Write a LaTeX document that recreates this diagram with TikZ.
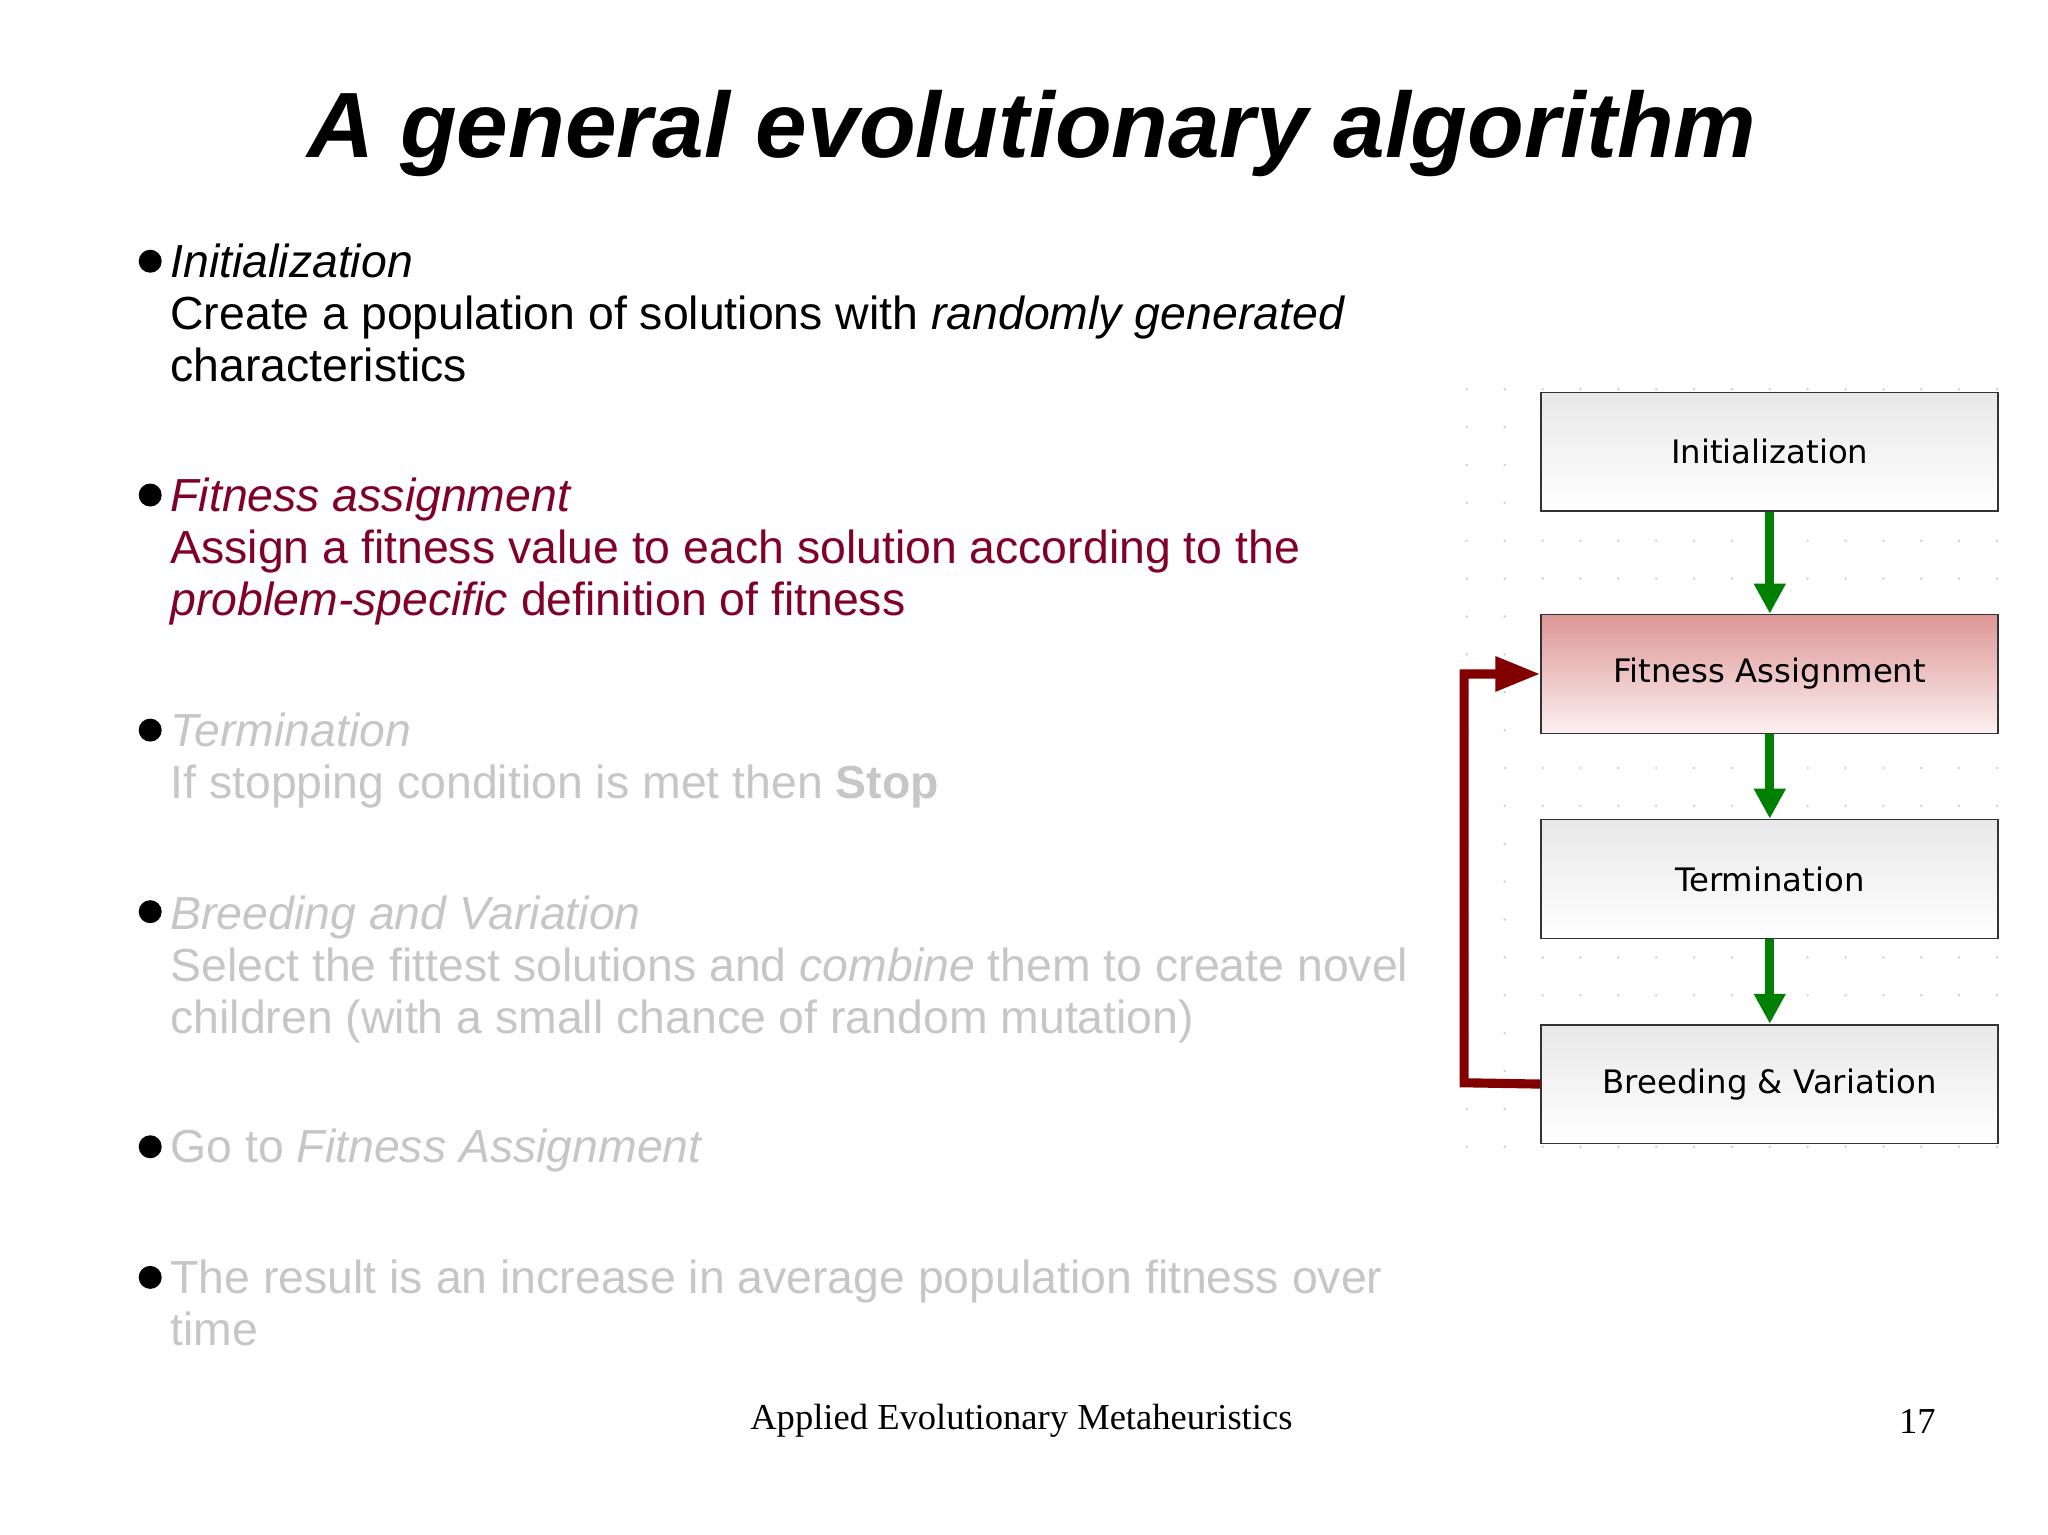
\documentclass[tikz,border=0pt]{standalone}
\usepackage{fontspec}
\setmainfont{Liberation Sans}
\newfontfamily\seriffont{Liberation Serif}
\newfontfamily\boxfont{DejaVu Sans}
\usetikzlibrary{arrows.meta}
\definecolor{dred}{RGB}{128,0,40}
\definecolor{lgray}{RGB}{198,198,198}
\definecolor{arrred}{RGB}{130,0,0}
\definecolor{arrgreen}{RGB}{0,128,0}
\definecolor{pinktop}{RGB}{222,150,150}
\definecolor{pinkbot}{RGB}{252,240,240}
\begin{document}
\begin{tikzpicture}[x=0.01306cm,y=-0.01306cm,
  bul/.style={anchor=north west,align=left,inner sep=0pt,font=\fontsize{13.2}{14.8}\selectfont},
  dot/.style={circle,fill=black,inner sep=0pt,minimum size=0.23cm},
  fbox/.style={draw=black!80,line width=0.5pt,minimum width=350*0.01306cm,minimum height=91*0.01306cm,font=\boxfont\fontsize{9.2}{11}\selectfont,top color=black!9,bottom color=white},
  garrow/.style={draw=arrgreen,line width=2.6pt,-{Triangle[length=0.3cm,width=0.3cm]}},
]
\useasboundingbox (0,0) rectangle (1568,1175);
% grid dots
\foreach \x in {1123,1152,...,1530} \foreach \y in {298,327,...,880} \fill[black!18] (\x,\y) circle (0.4pt);
\node[font=\bfseries\itshape\fontsize{26.4}{28}\selectfont,inner sep=0pt] (title) at (790,102) {A general evolutionary algorithm};
\foreach \y/\n in {200/d1,379/d2,559/d3,698/d4,878/d5,978/d6} \node[dot] (\n) at (115,\y) {};
\node[bul] (b1) at (130,186) {\itshape Initialization\\Create a population of solutions with \textit{randomly generated}\\characteristics};
\node[bul,text=dred] (b2) at (130,365) {\itshape Fitness assignment\\Assign a fitness value to each solution according to the\\\textit{problem-specific} definition of fitness};
\node[bul,text=lgray] (b3) at (130,545) {\itshape Termination\\If stopping condition is met then \textbf{Stop}};
\node[bul,text=lgray] (b4) at (130,685) {\itshape Breeding and Variation\\Select the fittest solutions and \textit{combine} them to create novel\\children (with a small chance of random mutation)};
\node[bul,text=lgray] (b5) at (130,864) {Go to \textit{Fitness Assignment}};
\node[bul,text=lgray] (b6) at (130,964) {The result is an increase in average population fitness over\\time};
\node[font=\seriffont\fontsize{10.4}{12}\selectfont] (foot) at (782,1088) {Applied Evolutionary Metaheuristics};
\node[font=\seriffont\fontsize{10.4}{12}\selectfont] (page) at (1468,1088) {17};
% flowchart
\node[fbox] (init) at (1355,346) {Initialization};
\node[fbox,top color=pinktop,bottom color=pinkbot] (fit) at (1355,516) {Fitness Assignment};
\node[fbox] (term) at (1355,673) {Termination};
\node[fbox] (breed) at (1355,830) {Breeding \& Variation};
\draw[garrow] (init) -- (fit);
\draw[garrow] (fit) -- (term);
\draw[garrow] (term) -- (breed);
\coordinate (c1) at (1121,829);
\coordinate (c2) at (1121,516);
\draw[arrred,line width=2.6pt,-{Triangle[length=0.45cm,width=0.33cm]}] (breed.west) -- (c1) -- (c2) -- (fit.west);
\end{tikzpicture}
\end{document}
